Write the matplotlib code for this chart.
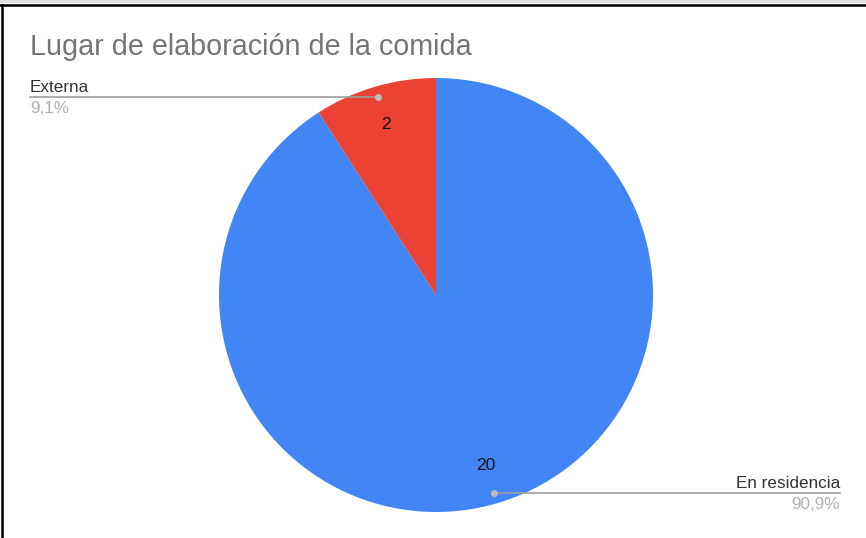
import numpy as np
import matplotlib
matplotlib.use("Agg")
import matplotlib.pyplot as plt

title = "Lugar de elaboración de la comida"
categories = ["En residencia", "Externa"]
values = [20, 2]
colors = ["#4285F4", "#EA4335"]
pct_labels = ["90,9%", "9,1%"]

W, H = 866, 538
fig = plt.figure(figsize=(W / 100, H / 100), dpi=100)
ax = fig.add_axes([0, 0, 1, 1])

cx, cy, r = 436, H - 295, 217
total = sum(values)
wedges, texts, autotexts = ax.pie(
    values, colors=colors, startangle=90, counterclock=False,
    center=(cx, cy), radius=r,
    autopct=lambda p: f"{round(p * total / 100)}", pctdistance=0.82,
    wedgeprops=dict(linewidth=0),
    textprops=dict(fontsize=12.5, color="#111111", family="Liberation Sans"),
)
ax.set_xlim(0, W)
ax.set_ylim(0, H)
ax.set_aspect("auto")
ax.axis("off")

# leader lines and labels
for w, name, pct in zip(wedges, categories, pct_labels):
    ang = np.deg2rad((w.theta1 + w.theta2) / 2)
    dx, dy = np.cos(ang), np.sin(ang)
    px, py = cx + 0.95 * r * dx, cy + 0.95 * r * dy
    ax.plot([px], [py], "o", color="#bdbdbd", markersize=4, zorder=5)
    if dx < 0:
        x_end, ha = 30, "left"
    else:
        x_end, ha = 840, "right"
    ax.plot([px, x_end], [py, py], color="#9e9e9e", linewidth=1.2, zorder=4)
    ax.text(x_end, py + 5, name, ha=ha, va="baseline", fontsize=12.3,
            color="#333333", family="Liberation Sans")
    ax.text(x_end, py - 16, pct, ha=ha, va="baseline", fontsize=12.3,
            color="#b0b0b0", family="Liberation Sans")

ax.text(30, H - 55, title, ha="left", va="baseline", fontsize=20.7,
        color="#757575", family="Liberation Sans")

# frame edges of the screenshot
fig.add_artist(plt.Rectangle((0, (H - 3) / H), 1, 3 / H, transform=fig.transFigure,
                             color="#e0e0e0", linewidth=0))
fig.add_artist(plt.Line2D([0, 1], [(H - 4.5) / H] * 2, transform=fig.transFigure,
                          color="black", linewidth=1.8))
fig.add_artist(plt.Line2D([2 / W, 2 / W], [0, (H - 4.5) / H], transform=fig.transFigure,
                          color="black", linewidth=1.8))

fig.savefig("out.png", dpi=100)
